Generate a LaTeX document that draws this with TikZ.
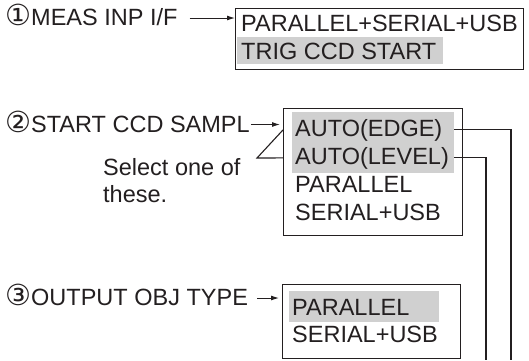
\documentclass[tikz,border=0pt]{standalone}
\usepackage{fontspec}
\setmainfont{Liberation Sans}
\newfontfamily\circfont{DejaVu Sans}
\usetikzlibrary{arrows.meta}
\definecolor{ink}{RGB}{35,31,32}
\definecolor{hlgray}{RGB}{208,208,208}

\begin{document}
\begin{tikzpicture}[
  x=1pt, y=-1pt,
  font=\fontsize{23.5}{27.5}\selectfont, text=ink,
  menu/.style={rectangle, draw=ink, line width=1.2pt, anchor=north west, inner sep=0pt},
  item/.style={anchor=base west, inner sep=0pt},
  lbl/.style={anchor=base west, inner sep=0pt, text height=17pt, text depth=2pt},
  hl/.style={rectangle, fill=hlgray, anchor=north west, inner sep=0pt},
  arr/.style={-{Latex[length=8pt, width=5pt]}, draw=ink, line width=1pt},
  wire/.style={draw=ink, line width=1.1pt}
]
\useasboundingbox (0,0) rectangle (529,360);
% highlighted (default) settings
\node[hl, minimum width=206pt, minimum height=27pt] (trighl) at (237,37) {};
\node[hl, minimum width=162pt, minimum height=61pt] (autohl) at (292,112) {};
\node[hl, minimum width=150pt, minimum height=31pt] (parhl) at (289,291) {};
% menu boxes
\node[menu, minimum width=288pt, minimum height=61.5pt] (ifbox) at (235,7.5) {};
\node[menu, minimum width=179pt, minimum height=127pt] (startbox) at (283,108) {};
\node[menu, minimum width=178pt, minimum height=74pt] (objbox) at (282,284) {};
\node[item] (ifall) at (241,31) {PARALLEL+SERIAL+USB};
\node[item] (iftrig) at (241,59) {TRIG CCD START};
\node[item] (edge) at (295,136) {AUTO(EDGE)};
\node[item] (level) at (295,164) {AUTO(LEVEL)};
\node[item] (stpar) at (295,192) {PARALLEL};
\node[item] (stser) at (295,220) {SERIAL+USB};
\node[item] (objpar) at (292,315) {PARALLEL};
\node[item] (objser) at (292,342) {SERIAL+USB};
% menu titles
\node[lbl] (meas) at (5,25.5) {{\circfont\fontsize{29}{29}\selectfont ①}MEAS INP I/F};
\node[lbl] (ccd) at (5,132) {{\circfont\fontsize{29}{29}\selectfont ②}START CCD SAMPL};
\node[lbl] (obj) at (5,305.5) {{\circfont\fontsize{29}{29}\selectfont ③}OUTPUT OBJ TYPE};
\node[item, align=left] (selnote) at (103,202.5) {Select one of\\these.};
\draw[arr, shorten <=12pt] (meas.east) -- (meas.east -| ifbox.west);
\draw[arr, shorten <=1pt, shorten >=3pt] (ccd.east) -- (ccd.east -| startbox.west);
\draw[arr, shorten <=9pt, shorten >=3pt] (obj.east) -- (obj.east -| objbox.west);
% callout
\coordinate (selpt) at (257,158);
\draw[wire] (startbox.west |- edge) -- (selpt) -- (startbox.west |- level);
\coordinate (edgeend) at (511,360);
\coordinate (levelend) at (486,360);
\draw[wire] (autohl.east |- edge) -| (edgeend);
\draw[wire] (autohl.east |- level) -| (levelend);
\end{tikzpicture}
\end{document}
